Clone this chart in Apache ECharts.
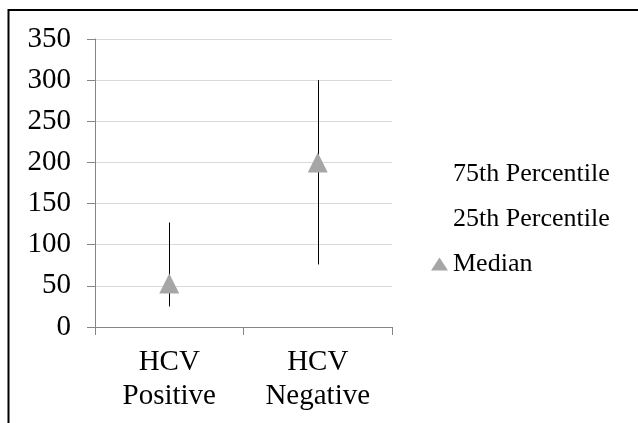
<!DOCTYPE html>
<html>
<head>
<meta charset="utf-8">
<script src="https://cdn.jsdelivr.net/npm/echarts@6/dist/echarts.min.js"></script>
<style>html,body{margin:0;padding:0;background:#fff}#c{width:638px;height:423px}</style>
</head>
<body>
<div id="c"></div>
<script>
var categories = ['HCV\nPositive', 'HCV\nNegative'];
var p75 = [127, 300];
var p25 = [25, 76];
var median = [53, 200];
var yTicks = {min: 0, max: 350, interval: 50};

var FONT = "'Liberation Serif', 'Times New Roman', serif";
var chart = echarts.init(document.getElementById('c'), null, {renderer: 'canvas'});
var rangeData = categories.map(function (c, i) { return [i, p25[i], p75[i]]; });

chart.setOption({
  animation: false,
  backgroundColor: '#fff',
  textStyle: {fontFamily: FONT, color: '#000'},
  graphic: [{
    type: 'rect', z: 100, silent: true,
    shape: {x: 8.5, y: 10, width: 700, height: 500},
    style: {fill: 'none', stroke: '#000', lineWidth: 2}
  }],
  grid: {left: 95, right: 246, top: 39, bottom: 96, containLabel: false},
  legend: {
    orient: 'vertical', left: 426, top: 156,
    itemWidth: 17, itemHeight: 13, itemGap: 19,
    textStyle: {fontFamily: FONT, fontSize: 26, color: '#000'},
    data: [
      {name: '75th Percentile', icon: 'rect', itemStyle: {color: 'rgba(0,0,0,0)', borderWidth: 0}},
      {name: '25th Percentile', icon: 'rect', itemStyle: {color: 'rgba(0,0,0,0)', borderWidth: 0}},
      {name: 'Median', icon: 'triangle', itemStyle: {color: '#a6a6a6'}}
    ]
  },
  xAxis: {
    type: 'category', data: categories, boundaryGap: true,
    axisLine: {lineStyle: {color: '#868686', width: 1}},
    axisTick: {show: true, length: 8, lineStyle: {color: '#868686'}},
    axisLabel: {fontFamily: FONT, fontSize: 29, color: '#000', margin: 18, lineHeight: 34, interval: 0},
    splitLine: {show: false}
  },
  yAxis: {
    type: 'value', min: yTicks.min, max: yTicks.max, interval: yTicks.interval,
    axisLine: {show: true, lineStyle: {color: '#868686', width: 1}},
    axisTick: {show: true, length: 8, lineStyle: {color: '#868686'}},
    axisLabel: {fontFamily: FONT, fontSize: 29, color: '#000', margin: 24},
    splitLine: {show: true, lineStyle: {color: '#d9d9d9', width: 1}}
  },
  series: [
    {
      type: 'custom', name: 'range', silent: true, z: 2,
      data: rangeData,
      encode: {x: 0, y: [1, 2]},
      renderItem: function (params, api) {
        var lo = api.coord([api.value(0), api.value(1)]);
        var hi = api.coord([api.value(0), api.value(2)]);
        var x = Math.round(lo[0]) + 0.5;
        return {type: 'line', shape: {x1: x, y1: lo[1], x2: x, y2: hi[1]},
          style: {stroke: '#000', lineWidth: 1}};
      }
    },
    {type: 'scatter', name: '75th Percentile', data: p75, symbol: 'none', symbolSize: 0, itemStyle: {color: 'rgba(0,0,0,0)'}},
    {type: 'scatter', name: '25th Percentile', data: p25, symbol: 'none', symbolSize: 0, itemStyle: {color: 'rgba(0,0,0,0)'}},
    {type: 'scatter', name: 'Median', data: median, symbol: 'triangle', symbolSize: [20, 20], z: 5,
      itemStyle: {color: '#a6a6a6', opacity: 1}}
  ]
});
</script>
</body>
</html>
